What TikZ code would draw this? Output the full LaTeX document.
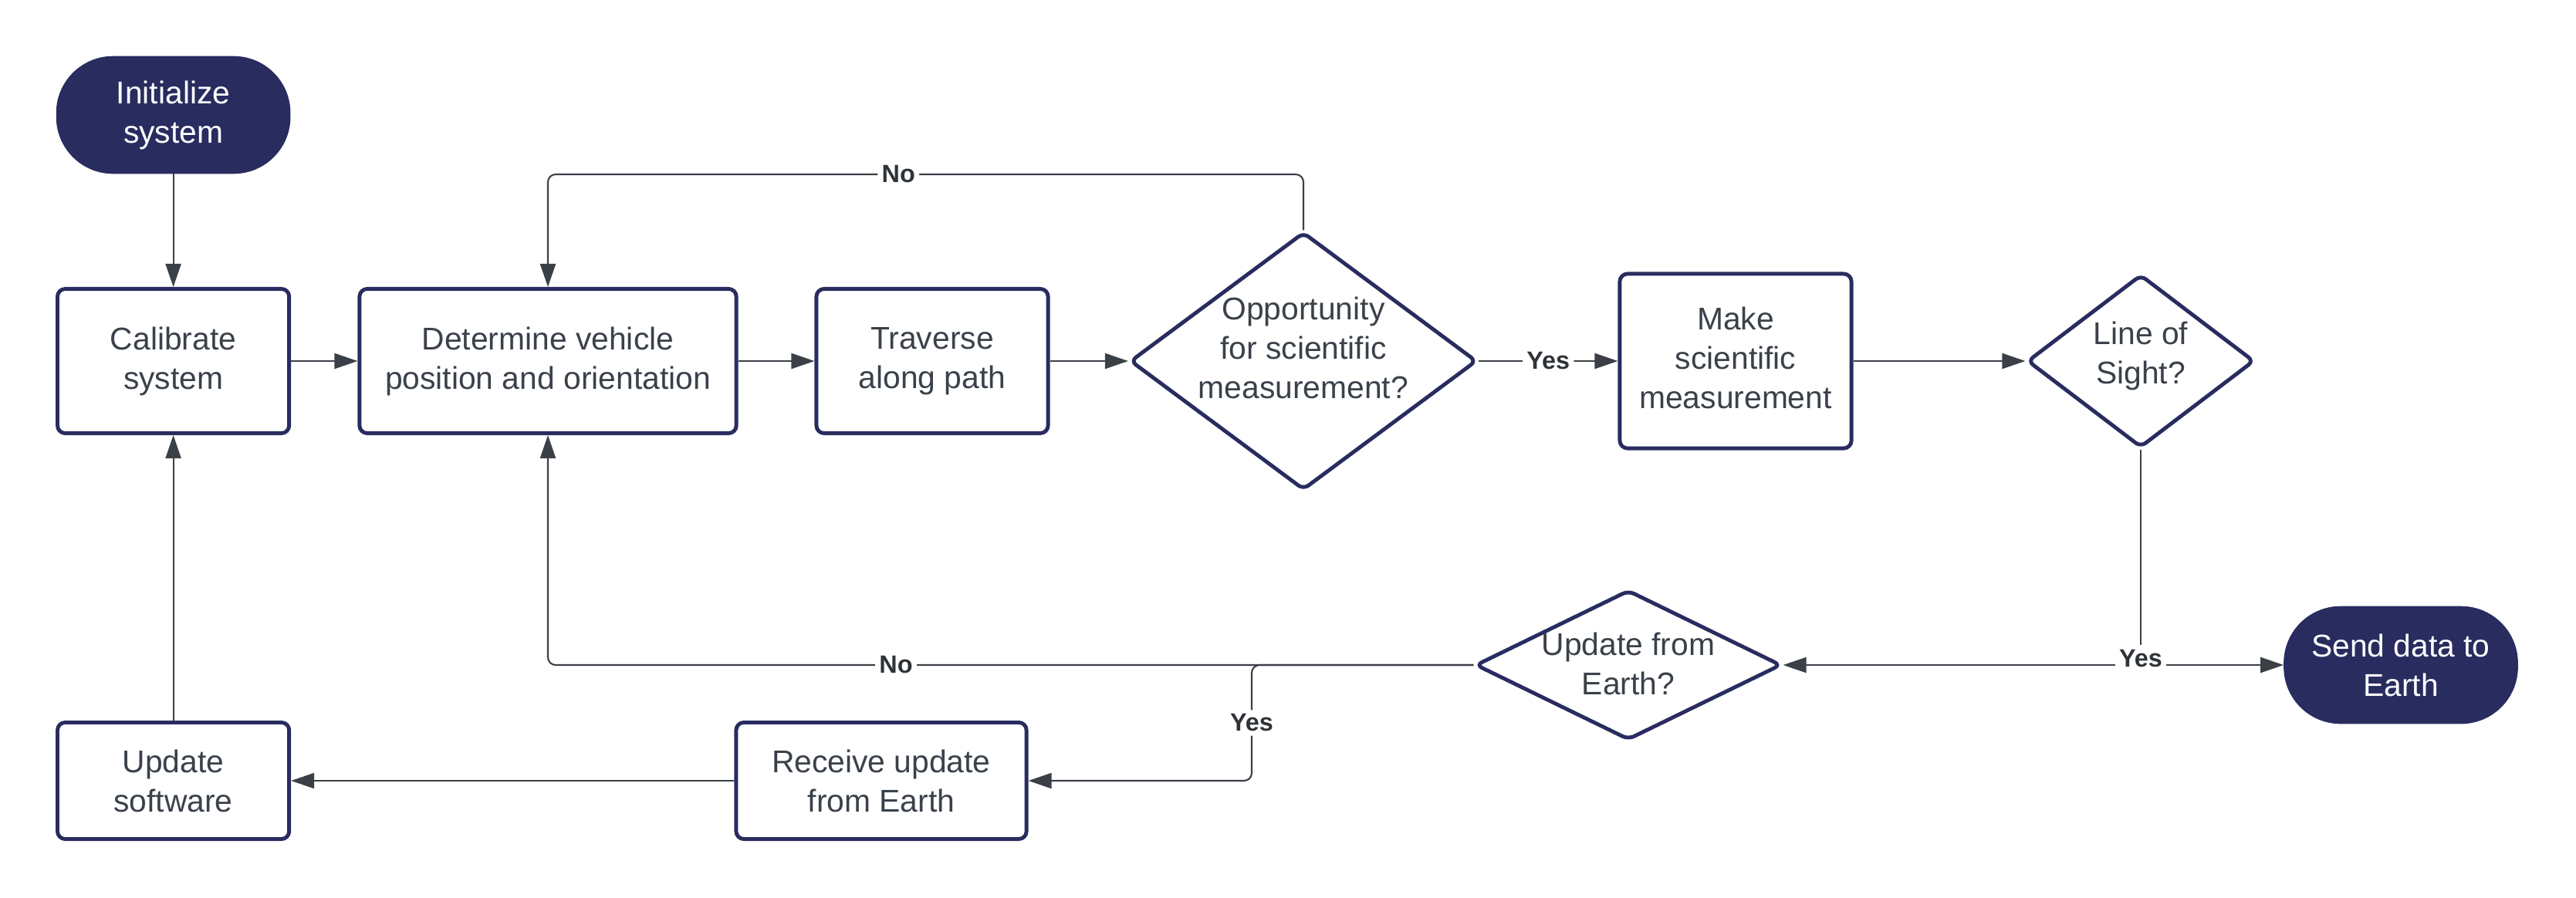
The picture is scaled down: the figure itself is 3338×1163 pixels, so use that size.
\documentclass[tikz,border=0pt]{standalone}
\usepackage{fontspec}
\setmainfont{Liberation Sans}
\usetikzlibrary{shapes.geometric,arrows.meta,calc}
\definecolor{navy}{HTML}{282C5F}
\definecolor{ink}{HTML}{3A414A}
\definecolor{wire}{HTML}{3B4047}
\definecolor{lblink}{HTML}{2F3338}
\begin{document}
\begin{tikzpicture}[x=0.01cm,y=-0.01cm,
  txtfont/.style={font=\fontsize{11.6}{14.5}\selectfont},
  box/.style={draw=navy, line width=1.4pt, rounded corners=0.1cm, fill=white, text=ink, txtfont, align=center, inner sep=0pt},
  term/.style={fill=navy, draw=navy, line width=1pt, rounded corners=0.72cm, text=white, txtfont, align=center, inner sep=0pt, minimum width=3cm, minimum height=1.49cm},
  dec/.style={shape=diamond, draw=navy, line width=1.4pt, rounded corners=0.08cm, fill=white, inner sep=0pt},
  dtext/.style={text=ink, txtfont, align=center, inner sep=0pt},
  wireline/.style={draw=wire, line width=0.6pt, rounded corners=0.1cm},
  conn/.style={wireline, -{Triangle[length=0.3cm,width=0.2cm]}},
  lbl/.style={fill=white, text=lblink, font=\bfseries\fontsize{9.2}{10}\selectfont, inner sep=1.5pt}
]
\useasboundingbox (0,0) rectangle (3338,1163);

% nodes
\node[term] (init) at (224.6,149) {Initialize\\system};
\node[box, minimum width=3cm, minimum height=1.87cm] (calib) at (224.6,468) {Calibrate\\system};
\node[box, minimum width=4.88cm, minimum height=1.87cm] (det) at (710,468) {Determine vehicle\\position and orientation};
\node[box, minimum width=3cm, minimum height=1.87cm] (trav) at (1208,468) {Traverse\\along path};
\node[dec, minimum width=4.49cm, minimum height=3.34cm,
      label={[dtext, yshift=0.17cm]center:Opportunity\\for scientific\\measurement?}] (d1) at (1689,468) {};
\node[box, minimum width=3cm, minimum height=2.26cm] (meas) at (2249,468) {\raisebox{0.03cm}{\begin{tabular}{@{}c@{}}Make\\scientific\\measurement\end{tabular}}};
\node[dec, minimum width=2.94cm, minimum height=2.24cm,
      label={[dtext, yshift=0.07cm]center:Line of\\Sight?}] (los) at (2774,468) {};
\node[term] (send) at (3111,862) {Send data to\\Earth};
\node[dec, minimum width=3.96cm, minimum height=1.94cm,
      label={[dtext, yshift=0.02cm]center:Update from\\Earth?}] (upd) at (2110,862) {};
\node[box, minimum width=3.76cm, minimum height=1.51cm] (recv) at (1142,1012) {Receive update\\from Earth};
\node[box, minimum width=3cm, minimum height=1.51cm] (sw) at (224.6,1012) {Update\\software};

% helper coordinates
\coordinate (topy) at (0,226);
\coordinate (J) at (los.south |- send.west);
\coordinate (br) at (1622,862);

% connectors
\draw[conn] (init.south) -- (calib.north);
\draw[conn] (calib.east) -- (det.west);
\draw[conn] (det.east) -- (trav.west);
\draw[conn] (trav.east) -- (d1.west);
\draw[conn] (d1.east) -- node[lbl] (yes1) {Yes} (meas.west);
\draw[conn] (d1.north) -- (d1.north |- topy) -- node[lbl, pos=0.536] (no1) {No} (det.north |- topy) -- (det.north);
\draw[conn] (meas.east) -- (los.west);
\draw[wireline] (los.south) -- (J);
\draw[conn] (J) -- (upd.east);
\draw[conn] (J) -- (send.west);
\draw[conn] (upd.west) -- node[lbl, pos=0.624] (no2) {No} (det.south |- upd.west) -- (det.south);
\draw[conn] (upd.west) -- (br) -- node[lbl] (yes2) {Yes} (br |- recv.east) -- (recv.east);
\draw[conn] (recv.west) -- (sw.east);
\draw[conn] (sw.north) -- (calib.south);
\node[lbl, anchor=base] (yes3) at ($(J)+(0,2)$) {Yes};
\end{tikzpicture}
\end{document}
